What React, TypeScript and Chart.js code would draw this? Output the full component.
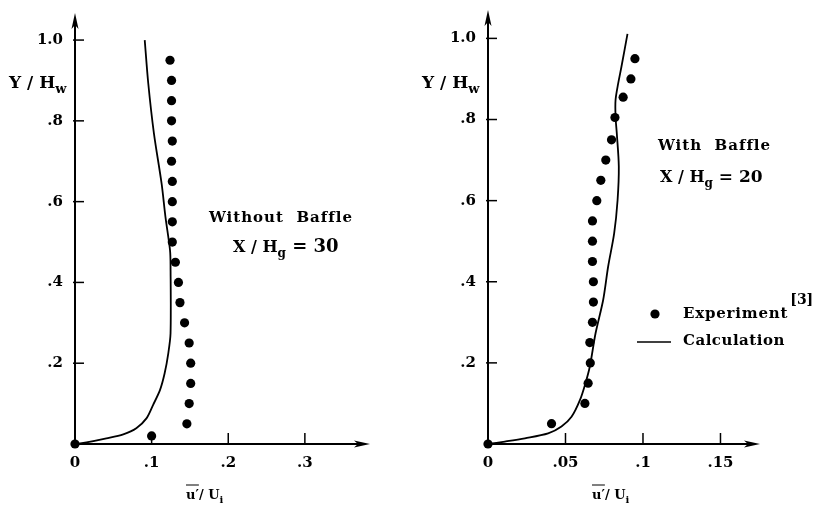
import React, { useEffect, useRef } from 'react';
import { Chart, registerables } from 'chart.js';
Chart.register(...registerables);

// ---------- Left panel: Without Baffle, X/Hg = 30 ----------
const leftExpX = [0.124, 0.126, 0.126, 0.126, 0.127, 0.126, 0.127, 0.127, 0.127, 0.127, 0.131, 0.135, 0.137, 0.143, 0.149, 0.151, 0.151, 0.149, 0.146, 0.100, 0.0];
const leftExpY = [0.95, 0.90, 0.85, 0.80, 0.75, 0.70, 0.65, 0.60, 0.55, 0.50, 0.45, 0.40, 0.35, 0.30, 0.25, 0.20, 0.15, 0.10, 0.05, 0.02, 0.0];
const leftCalcX = [0.091, 0.0956, 0.103, 0.113, 0.118, 0.124, 0.1247, 0.1247, 0.1217, 0.117, 0.111, 0.102, 0.0935, 0.080, 0.063, 0.041, 0.015, 0.0];
const leftCalcY = [1.0, 0.893, 0.769, 0.645, 0.563, 0.48, 0.439, 0.274, 0.224, 0.175, 0.134, 0.097, 0.064, 0.039, 0.024, 0.014, 0.004, 0.0];
const leftXTicks = [0, 0.1, 0.2, 0.3];
const leftXLabels = ['0', '.1', '.2', '.3'];

// ---------- Right panel: With Baffle, X/Hg = 20 ----------
const rightExpX = [0.0948, 0.0922, 0.0872, 0.0819, 0.0797, 0.0760, 0.0728, 0.0702, 0.0674, 0.0674, 0.0674, 0.068, 0.068, 0.0674, 0.0657, 0.066, 0.0646, 0.0625, 0.041, 0.0];
const rightExpY = [0.95, 0.90, 0.855, 0.805, 0.75, 0.70, 0.65, 0.60, 0.55, 0.50, 0.45, 0.40, 0.35, 0.30, 0.25, 0.20, 0.15, 0.10, 0.05, 0.0];
const rightCalcX = [0.090, 0.0861, 0.084, 0.0823, 0.0823, 0.0831, 0.0844, 0.0836, 0.0814, 0.0775, 0.0743, 0.0694, 0.0657, 0.0629, 0.0593, 0.0539, 0.0474, 0.0388, 0.0238, 0.0109, 0.0];
const rightCalcY = [1.011, 0.930, 0.889, 0.848, 0.807, 0.766, 0.684, 0.601, 0.519, 0.437, 0.355, 0.273, 0.191, 0.150, 0.108, 0.067, 0.043, 0.026, 0.014, 0.006, 0.0];
const rightXTicks = [0, 0.05, 0.1, 0.15];
const rightXLabels = ['0', '.05', '.1', '.15'];

const yTicks = [0.2, 0.4, 0.6, 0.8, 1.0];
const yLabels = ['.2', '.4', '.6', '.8', '1.0'];

const FONT = '"DejaVu Serif", serif';

type Part = [string, 'n' | 'sub' | 'sup'];

function drawParts(ctx: CanvasRenderingContext2D, parts: Part[], x: number, y: number, size: number, spacing = 0) {
  let cx = x;
  for (const [t, kind] of parts) {
    const s = kind === 'n' ? size : Math.round(size * 0.75);
    const dy = kind === 'sub' ? size * 0.3 : kind === 'sup' ? -size * 0.5 : 0;
    ctx.font = `bold ${s}px ${FONT}`;
    (ctx as any).letterSpacing = `${spacing}px`;
    ctx.fillText(t, cx, y + dy);
    cx += ctx.measureText(t).width;
  }
  (ctx as any).letterSpacing = '0px';
  return cx;
}

function makePlugin(side: 'left' | 'right', xTicks: number[]) {
  return {
    id: 'decor_' + side,
    beforeDatasetsDraw(chart: any) {
      const ctx: CanvasRenderingContext2D = chart.ctx;
      const xs = chart.scales.x;
      const ys = chart.scales.y;
      const { right, top } = chart.chartArea;
      const x0 = xs.getPixelForValue(0);
      const y0 = ys.getPixelForValue(0);
      ctx.save();
      ctx.strokeStyle = '#000';
      ctx.fillStyle = '#000';
      ctx.lineWidth = 2;
      // x axis
      ctx.beginPath();
      ctx.moveTo(x0, y0);
      ctx.lineTo(right - 8, y0);
      ctx.stroke();
      ctx.beginPath();
      ctx.moveTo(right, y0);
      ctx.lineTo(right - 16, y0 - 3.5);
      ctx.lineTo(right - 12, y0);
      ctx.lineTo(right - 16, y0 + 3.5);
      ctx.closePath();
      ctx.fill();
      // y axis
      ctx.beginPath();
      ctx.moveTo(x0, y0);
      ctx.lineTo(x0, top + 8);
      ctx.stroke();
      ctx.beginPath();
      ctx.moveTo(x0, top);
      ctx.lineTo(x0 - 3.5, top + 16);
      ctx.lineTo(x0, top + 12);
      ctx.lineTo(x0 + 3.5, top + 16);
      ctx.closePath();
      ctx.fill();
      // tick marks (inward)
      ctx.lineWidth = 1.5;
      for (const v of xTicks) {
        if (v === 0) continue;
        const px = xs.getPixelForValue(v);
        ctx.beginPath();
        ctx.moveTo(px, y0);
        ctx.lineTo(px, y0 - 11);
        ctx.stroke();
      }
      for (const v of yTicks) {
        const py = ys.getPixelForValue(v);
        ctx.beginPath();
        ctx.moveTo(x0 - 2, py);
        ctx.lineTo(x0 + 9, py);
        ctx.stroke();
      }
      ctx.restore();
    },
    afterDraw(chart: any) {
      const ctx: CanvasRenderingContext2D = chart.ctx;
      const xs = chart.scales.x;
      ctx.save();
      ctx.fillStyle = '#000';
      ctx.strokeStyle = '#000';
      ctx.textBaseline = 'alphabetic';
      ctx.textAlign = 'left';
      const x0 = xs.getPixelForValue(0);
      // Y axis title
      const yx = x0 - 66;
      drawParts(ctx, [['Y / H', 'n'], ['w', 'sub']], yx, 88, 17);
      // X axis title with overline
      const tx = side === 'left' ? 186 : 592 - 408;
      const endU = drawParts(ctx, [['u\u2032', 'n']], tx, 499, 13);
      ctx.lineWidth = 1;
      ctx.beginPath();
      ctx.moveTo(tx, 485);
      ctx.lineTo(endU, 485);
      ctx.stroke();
      drawParts(ctx, [['/ U', 'n'], ['i', 'sub']], endU, 499, 13);
      if (side === 'left') {
        drawParts(ctx, [['Without  Baffle', 'n']], 209, 222, 15, 1);
        const e = drawParts(ctx, [['X / H', 'n'], ['g', 'sub']], 233, 252, 16, 0);
        drawParts(ctx, [[' = 30', 'n']], e, 252, 18, 0);
      } else {
        drawParts(ctx, [['With  Baffle', 'n']], 658 - 408, 150, 15, 1);
        const e = drawParts(ctx, [['X / H', 'n'], ['g', 'sub']], 660 - 408, 182, 16, 0);
        drawParts(ctx, [[' = 20', 'n']], e, 182, 17, 0);
        // legend
        ctx.beginPath();
        ctx.arc(655 - 408, 314, 4.6, 0, Math.PI * 2);
        ctx.fill();
        const e2 = drawParts(ctx, [['Experiment', 'n']], 683 - 408, 318, 15, 0.8);
        drawParts(ctx, [['[3]', 'n']], e2 + 2, 304, 14, 0);
        ctx.lineWidth = 1.5;
        ctx.beginPath();
        ctx.moveTo(637 - 408, 342);
        ctx.lineTo(671 - 408, 342);
        ctx.stroke();
        drawParts(ctx, [['Calculation', 'n']], 683 - 408, 345, 15, 0.5);
      }
      ctx.restore();
    },
  };
}

interface PanelProps {
  side: 'left' | 'right';
  expX: number[];
  expY: number[];
  calcX: number[];
  calcY: number[];
  xTicks: number[];
  xLabels: string[];
  xMax: number;
  yMax: number;
  axisLeft: number;
  padTop: number;
  padRight: number;
}

function Panel(p: PanelProps) {
  const ref = useRef<HTMLCanvasElement | null>(null);
  useEffect(() => {
    if (!ref.current) return;
    const expData = p.expX.map((x, i) => ({ x, y: p.expY[i] }));
    const calcData = p.calcX.map((x, i) => ({ x, y: p.calcY[i] }));
    const tickFont = { family: FONT, weight: 'bold' as const, size: 15 };
    const chart = new Chart(ref.current, {
      type: 'scatter',
      data: {
        datasets: [
          {
            label: 'Calculation',
            data: calcData,
            showLine: true,
            borderColor: '#000',
            borderWidth: 1.8,
            pointRadius: 0,
            tension: 0.3,
            fill: false,
            clip: false,
          } as any,
          {
            label: 'Experiment',
            data: expData,
            showLine: false,
            pointRadius: 4.6,
            pointBackgroundColor: '#000',
            pointBorderColor: '#000',
            pointBorderWidth: 0,
            clip: false,
          } as any,
        ],
      },
      options: {
        animation: false,
        responsive: false,
        maintainAspectRatio: false,
        layout: { padding: { top: p.padTop, right: p.padRight, left: 0, bottom: 0 } },
        plugins: { legend: { display: false }, tooltip: { enabled: false }, title: { display: false } },
        scales: {
          x: {
            type: 'linear',
            min: 0,
            max: p.xMax,
            grid: { display: false, drawTicks: false },
            border: { display: false },
            afterFit: (s: any) => {
              s.height = 67;
              s.paddingLeft = 0;
              s.paddingRight = 0;
            },
            afterBuildTicks: (s: any) => { s.ticks = p.xTicks.map((v) => ({ value: v })); },
            ticks: {
              color: '#000',
              font: tickFont,
              padding: 10,
              maxRotation: 0,
              autoSkip: false,
              callback: (v: any) => {
                const i = p.xTicks.findIndex((t) => Math.abs(t - Number(v)) < 1e-9);
                return i >= 0 ? p.xLabels[i] : '';
              },
            },
          },
          y: {
            type: 'linear',
            min: 0,
            max: p.yMax,
            grid: { display: false, drawTicks: false },
            border: { display: false },
            afterFit: (s: any) => {
              s.width = p.axisLeft;
              s.paddingTop = 0;
              s.paddingBottom = 0;
            },
            afterBuildTicks: (s: any) => { s.ticks = yTicks.map((v) => ({ value: v })); },
            ticks: {
              color: '#000',
              font: tickFont,
              padding: 12,
              autoSkip: false,
              callback: (v: any) => {
                const i = yTicks.findIndex((t) => Math.abs(t - Number(v)) < 1e-9);
                return i >= 0 ? yLabels[i] : '';
              },
            },
          },
        },
      } as any,
      plugins: [makePlugin(p.side, p.xTicks)],
    });
    return () => chart.destroy();
  }, []);
  return <canvas ref={ref} width={408} height={511} style={{ display: 'block', width: 408, height: 511 }} />;
}

export default function App() {
  return (
    <div style={{ position: 'fixed', left: 0, top: 0, width: 816, height: 511, display: 'flex', background: '#fff' }}>
      <Panel
        side="left"
        expX={leftExpX}
        expY={leftExpY}
        calcX={leftCalcX}
        calcY={leftCalcY}
        xTicks={leftXTicks}
        xLabels={leftXLabels}
        xMax={0.385}
        yMax={1.067}
        axisLeft={75}
        padTop={13}
        padRight={38}
      />
      <Panel
        side="right"
        expX={rightExpX}
        expY={rightExpY}
        calcX={rightCalcX}
        calcY={rightCalcY}
        xTicks={rightXTicks}
        xLabels={rightXLabels}
        xMax={0.1755}
        yMax={1.07}
        axisLeft={80}
        padTop={10}
        padRight={56}
      />
    </div>
  );
}
